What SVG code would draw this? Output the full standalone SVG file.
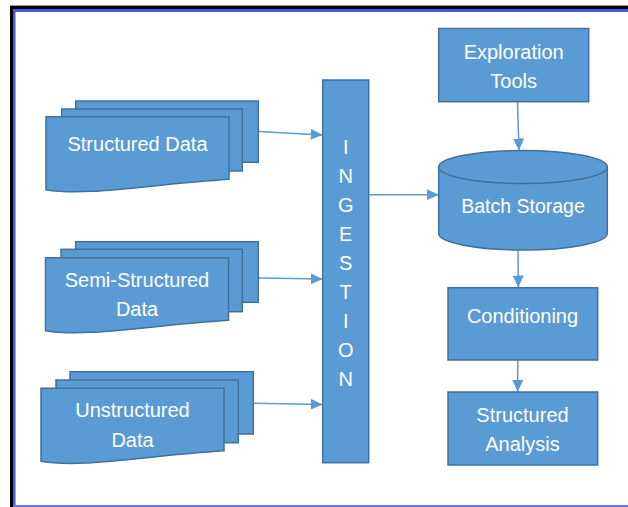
<svg xmlns="http://www.w3.org/2000/svg" width="628" height="507" viewBox="0 0 628 507">
<style>
.shape{fill:#5B9BD5;stroke:#41719C;stroke-width:1.5}
.lbl{fill:#FFFFFF;font-family:"Liberation Sans",Arial,sans-serif;font-size:20px;text-anchor:middle}
.conn{stroke:#5B9BD5;stroke-width:1.5;fill:none;marker-end:url(#ah)}
</style>
<defs>
<marker id="ah" markerUnits="userSpaceOnUse" markerWidth="12" markerHeight="11" refX="12" refY="5.5" orient="auto">
<path d="M0,0 L12,5.5 L0,11 Z" fill="#5B9BD5"/>
</marker>
<path id="doc" d="M0,0 H183 V62.5 C100,68 40,80 0,73 Z"/>
</defs>
<rect width="628" height="507" fill="#FFFFFF"/>
<g id="frame">
<rect x="10" y="5" width="618" height="1" fill="#9a9a9a"/>
<rect x="10" y="6" width="618" height="3" fill="#000000"/>
<rect x="10" y="6" width="3" height="501" fill="#000000"/>
<rect x="13" y="9" width="615" height="3" fill="#4B57DC"/>
<rect x="13" y="9" width="2.5" height="498" fill="#4B57DC"/>
<rect x="13" y="505" width="615" height="2" fill="#6A74E6"/>
</g>
<g id="connectors">
<line class="conn" x1="258.3" y1="131.5" x2="322.7" y2="135"/>
<line class="conn" x1="259" y1="278" x2="322.7" y2="279"/>
<line class="conn" x1="253.3" y1="403.3" x2="322.7" y2="404.5"/>
<line class="conn" x1="368.7" y1="194.7" x2="438.7" y2="194.7"/>
<line class="conn" x1="517.5" y1="101.7" x2="519" y2="150.5"/>
<line class="conn" x1="518" y1="250" x2="518.3" y2="287.5"/>
<line class="conn" x1="517.7" y1="360" x2="517.7" y2="392"/>
</g>
<g id="structured-data">
<rect class="shape" x="75.7" y="101" width="182.6" height="61.3"/>
<rect class="shape" x="61.7" y="109" width="180.6" height="62"/>
<use href="#doc" class="shape" x="46" y="116.7"/>
<text class="lbl" x="137.5" y="151">Structured Data</text>
</g>
<g id="semi-structured-data">
<rect class="shape" x="75.7" y="241.7" width="182.6" height="60.6"/>
<rect class="shape" x="61" y="249.3" width="181.3" height="62.4"/>
<use href="#doc" class="shape" x="45.5" y="257.7"/>
<text class="lbl" x="137" y="286.7">Semi-Structured</text>
<text class="lbl" x="137" y="316">Data</text>
</g>
<g id="unstructured-data">
<rect class="shape" x="70" y="371.7" width="183.3" height="62.3"/>
<rect class="shape" x="56" y="380" width="182.3" height="62.7"/>
<use href="#doc" class="shape" x="41" y="388.3"/>
<text class="lbl" x="132.5" y="417.3">Unstructured</text>
<text class="lbl" x="132.5" y="446.7">Data</text>
</g>
<g id="ingestion">
<rect class="shape" x="322.7" y="80" width="46" height="382.7"/>
<text class="lbl" x="345.7" y="154">I</text>
<text class="lbl" x="345.7" y="183">N</text>
<text class="lbl" x="345.7" y="212">G</text>
<text class="lbl" x="345.7" y="241">E</text>
<text class="lbl" x="345.7" y="270">S</text>
<text class="lbl" x="345.7" y="299">T</text>
<text class="lbl" x="345.7" y="328">I</text>
<text class="lbl" x="345.7" y="357">O</text>
<text class="lbl" x="345.7" y="386">N</text>
</g>
<g id="exploration-tools">
<rect class="shape" x="438.7" y="28.5" width="150" height="73.2"/>
<text class="lbl" x="513.7" y="59.3">Exploration</text>
<text class="lbl" x="513.7" y="88.3">Tools</text>
</g>
<g id="batch-storage">
<path class="shape" d="M438.7,167 V233.5 A84.3,16.5 0 0 0 607.3,233.5 V167 A84.3,16.5 0 0 0 438.7,167 Z"/>
<path class="shape" d="M438.7,167 A84.3,16.5 0 0 0 607.3,167" fill="none"/>
<text class="lbl" x="523" y="213" style="font-size:19.5px">Batch Storage</text>
</g>
<g id="conditioning">
<rect class="shape" x="448" y="287.7" width="149.7" height="72.3"/>
<text class="lbl" x="522.5" y="322.7">Conditioning</text>
</g>
<g id="structured-analysis">
<rect class="shape" x="448" y="392" width="149.7" height="73"/>
<text class="lbl" x="522.5" y="421.7">Structured</text>
<text class="lbl" x="522.5" y="450.7">Analysis</text>
</g>
</svg>
